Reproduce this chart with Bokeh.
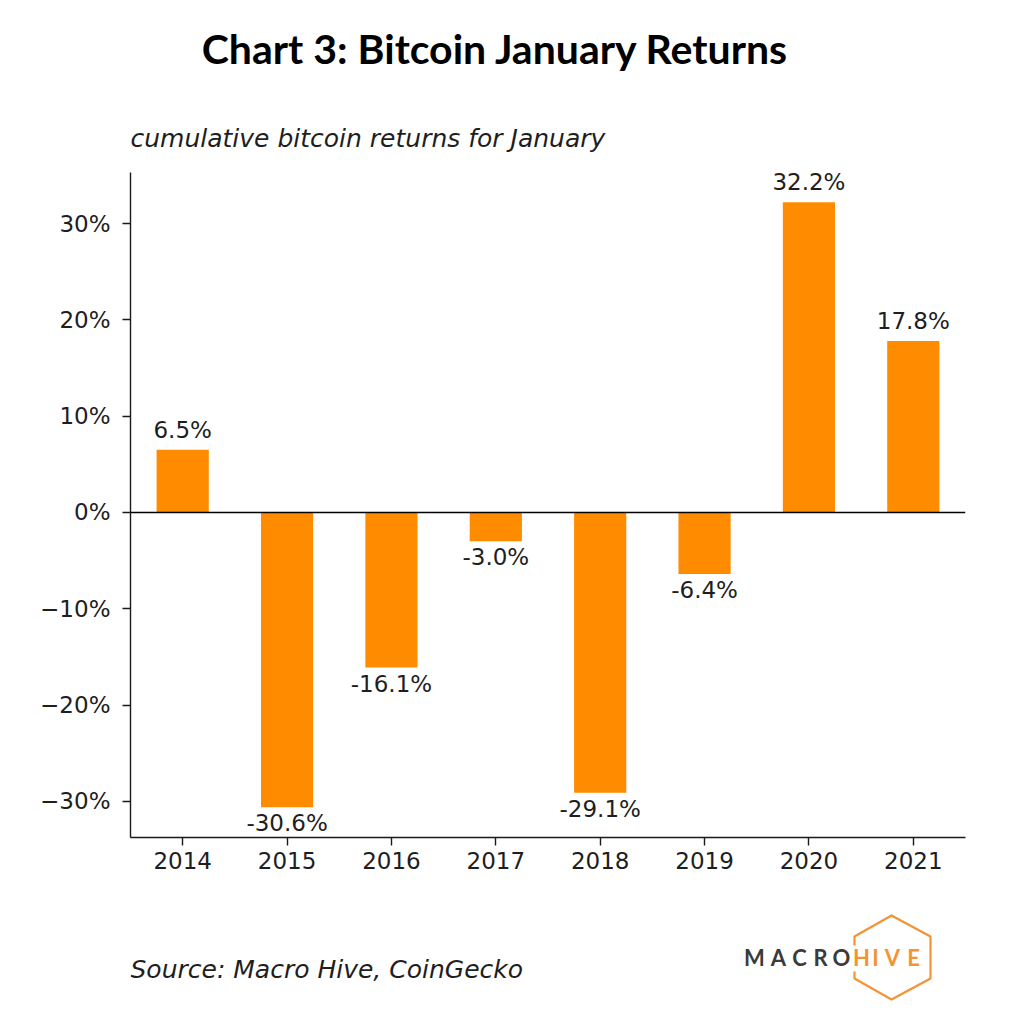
from bokeh.plotting import figure
from bokeh.layouts import column
from bokeh.models import FactorRange, Range1d, FixedTicker, Span, ColumnDataSource
from bokeh.core.properties import value
from bokeh.embed import file_html
from bokeh.resources import INLINE

# ---- data ----
years = ["2014", "2015", "2016", "2017", "2018", "2019", "2020", "2021"]
returns = [6.5, -30.6, -16.1, -3.0, -29.1, -6.4, 32.2, 17.8]
y_ticks = [-30, -20, -10, 0, 10, 20, 30]
y_tick_labels = ["\u221230%", "\u221220%", "\u221210%", "0%", "10%", "20%", "30%"]
title_text = "Chart 3: Bitcoin January Returns"
subtitle_text = "cumulative bitcoin returns for January"
source_text = "Source: Macro Hive, CoinGecko"
logo_letters = ["M", "A", "C", "R", "O", "H", "I", "V", "E"]

BAR = "#FF8C00"
TXT = "#1e1e1e"
HEX = "#F39434"
W = 1000
LEFT, RIGHT = 130, 35          # borders shared by all stacked figures
X0, X1 = LEFT, W - RIGHT       # pixel columns of the aligned frames


def blank(height, y0, y1):
    f = figure(width=W, height=height, output_backend="svg", toolbar_location=None,
               x_range=Range1d(X0, X1), y_range=Range1d(y1, y0),
               x_axis_location=None, y_axis_location=None)
    f.min_border_left = LEFT
    f.min_border_right = RIGHT
    f.min_border_top = 0
    f.min_border_bottom = 0
    f.outline_line_color = None
    f.xgrid.visible = False
    f.ygrid.visible = False
    return f


# ---- header (title + subtitle), pixel rows 0..160 ----
top = blank(160, 0, 160)
top.text(x=[495], y=[48], text=[title_text], text_align="center",
         text_baseline="middle", text_font=value("Lato"),
         text_font_style="bold", text_font_size="41px", text_color="black")
top.text(x=[130], y=[138], text=[subtitle_text], text_align="left",
         text_baseline="middle", text_font=value("DejaVu Sans"),
         text_font_style="italic", text_font_size="25px", text_color=TXT)

# ---- main chart, pixel rows 160..900 ----
p = figure(width=W, height=740, output_backend="svg", toolbar_location=None,
           x_range=FactorRange(*years), y_range=Range1d(-33.75, 35.3))
p.min_border_left = LEFT
p.min_border_right = RIGHT
p.min_border_top = 12
p.min_border_bottom = 63
p.outline_line_color = None
p.xgrid.visible = False
p.ygrid.visible = False

src = ColumnDataSource(dict(x=years, top=returns))
p.vbar(x="x", top="top", bottom=0, width=0.5, source=src,
       fill_color=BAR, line_color=None)
p.add_layout(Span(location=0, dimension="width", line_color="black", line_width=1.4))

pos = dict(x=[y for y, v in zip(years, returns) if v >= 0],
           y=[v for v in returns if v >= 0],
           t=["%.1f%%" % v for v in returns if v >= 0])
neg = dict(x=[y for y, v in zip(years, returns) if v < 0],
           y=[v for v in returns if v < 0],
           t=["%.1f%%" % v for v in returns if v < 0])
p.text(x="x", y="y", text="t", source=ColumnDataSource(pos), text_align="center",
       text_baseline="middle", y_offset=-20, text_font_size="23px",
       text_font=value("DejaVu Sans"), text_color=TXT)
p.text(x="x", y="y", text="t", source=ColumnDataSource(neg), text_align="center",
       text_baseline="middle", y_offset=16, text_font_size="23px",
       text_font=value("DejaVu Sans"), text_color=TXT)

for ax in (p.xaxis[0], p.yaxis[0]):
    ax.axis_line_color = "#1a1a1a"
    ax.axis_line_width = 1.4
    ax.major_tick_line_color = "#1a1a1a"
    ax.major_tick_line_width = 1.4
    ax.major_tick_out = 8
    ax.major_tick_in = 0
    ax.minor_tick_line_color = None
    ax.major_label_text_font = "DejaVu Sans"
    ax.major_label_text_font_size = "23px"
    ax.major_label_text_color = TXT
p.yaxis.ticker = FixedTicker(ticks=y_ticks)
p.yaxis.major_label_overrides = {t: l for t, l in zip(y_ticks, y_tick_labels)}
p.yaxis.major_label_standoff = 12
p.xaxis.major_label_standoff = 6

# ---- footer (source + logo), pixel rows 900..1010 ----
bot = blank(110, 900, 1010)
bot.text(x=[130], y=[969], text=[source_text], text_align="left",
         text_baseline="middle", text_font=value("DejaVu Sans"),
         text_font_style="italic", text_font_size="25px", text_color=TXT)
hex_x = [854, 854, 891, 930, 930, 891, 854, 854]
hex_y = [945, 936, 915, 936, 978, 999, 978, 971]
bot.line(x=hex_x, y=hex_y, line_color=HEX, line_width=2.2)
logo_x = [754, 778, 799, 820, 841, 861, 875, 892, 913]
logo_c = ["#3b3b3b"] * 5 + [HEX] * 4
bot.text(x=logo_x, y=[957] * 9, text=logo_letters, text_color=logo_c,
         text_align="center", text_baseline="middle", text_font=value("Lato"),
         text_font_style="bold", text_font_size="22px")

layout = column(top, p, bot, spacing=0)
open("out.html", "w").write(file_html(layout, INLINE))
